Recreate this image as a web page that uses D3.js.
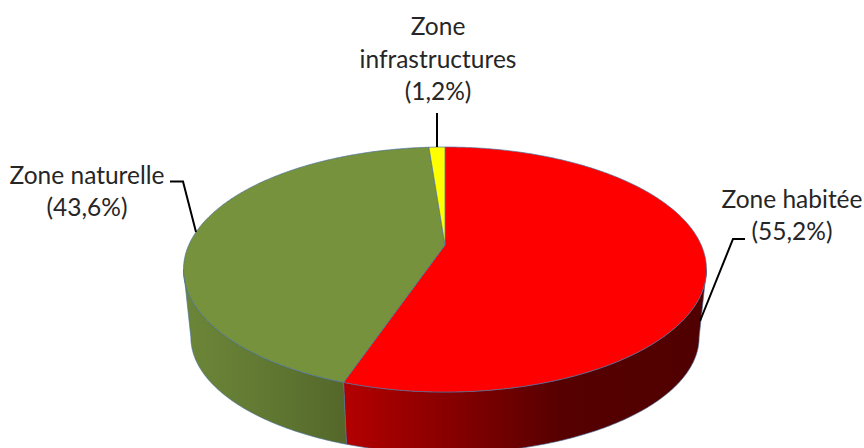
<!DOCTYPE html>
<html>
<head>
<meta charset="utf-8">
<script src="https://cdn.jsdelivr.net/npm/d3@7"></script>
<style>
html,body{margin:0;padding:0;background:#fff}
svg{display:block}
text{font-family:Lato,"Noto Sans",sans-serif;font-size:24.5px;fill:#262626;text-anchor:middle}
</style>
</head>
<body>
<svg id="c" width="864" height="448"></svg>
<script>
const categories = ["Zone habitée", "Zone naturelle", "Zone infrastructures"];
const values = [55.2, 43.6, 1.2];
const valueLabels = ["(55,2%)", "(43,6%)", "(1,2%)"];
const colors = ["#ff0000", "#76923c", "#ffff00"];

const svg = d3.select("#c");
const cx = 445, K = 0.2;
const topRim = {A: 256.2, B: 117.6, cy: 245};
const lowRim = {A: 249, B: 111.5, cy: 314};

// perspective projection of the pie disc onto the screen
function project(rim, a, r = 1) {
  const u = r * Math.sin(a), v = r * Math.cos(a), d = 1 + K * v;
  return [cx + rim.A * u / d, rim.cy - rim.B * v / d];
}
const arcs = d3.pie().sort(null).value(d => d)(values);
const samples = (a0, a1) => {
  const n = Math.max(2, Math.ceil(Math.abs(a1 - a0) / 0.01));
  return d3.range(n + 1).map(i => a0 + (a1 - a0) * i / n);
};
const line = d3.line();
const edge = "#4a6f9c";

const defs = svg.append("defs");
function grad(id, x1, x2, stops) {
  const g = defs.append("linearGradient").attr("id", id)
    .attr("gradientUnits", "userSpaceOnUse")
    .attr("x1", x1).attr("x2", x2).attr("y1", 0).attr("y2", 0);
  stops.forEach(s => g.append("stop").attr("offset", s[0]).attr("stop-color", s[1]));
}
grad("wall0", 346, 705, [[0, "#b30000"], [0.3, "#860000"], [0.6, "#560000"], [1, "#500000"]]);
grad("wall1", 184, 347, [[0, "#6c8638"], [0.45, "#627a33"], [1, "#54672a"]]);

// visible side wall: the front part of each slice, between the silhouette angles
const visMin = Math.PI - Math.acos(K), visMax = Math.PI + Math.acos(K);
arcs.forEach((d, i) => {
  const a0 = Math.max(d.startAngle, visMin), a1 = Math.min(d.endAngle, visMax);
  if (a1 <= a0) return;
  const s = samples(a0, a1);
  const pts = s.map(a => project(topRim, a)).concat(s.slice().reverse().map(a => project(lowRim, a)));
  svg.append("path").attr("d", line(pts) + "Z")
    .attr("fill", "url(#wall" + i + ")")
    .attr("stroke", edge).attr("stroke-width", 0.8).attr("stroke-opacity", 0.8);
});

// top face
arcs.forEach((d, i) => {
  const pts = [[cx, topRim.cy]].concat(samples(d.startAngle, d.endAngle).map(a => project(topRim, a)));
  svg.append("path").attr("d", line(pts) + "Z")
    .attr("fill", colors[i])
    .attr("stroke", edge).attr("stroke-width", 0.8).attr("stroke-opacity", 0.85);
});

// leader lines
const leaders = [
  [[745, 239], [733, 239], [700, 321]],
  [[170, 181.5], [183, 181.5], [196, 232]],
  [[437, 113], [437, 147]]
];
leaders.forEach(p => svg.append("path").attr("d", line(p))
  .attr("fill", "none").attr("stroke", "#000").attr("stroke-width", 2));

// labels
const nameLines = [["Zone habitée"], ["Zone naturelle"], ["Zone", "infrastructures"]];
const labelPos = [[792, 208, 32], [87, 184, 32], [438, 35, 32.5]];
arcs.forEach((d, i) => {
  const [x, y, dy] = labelPos[i];
  nameLines[i].concat([valueLabels[i]]).forEach((t, j) => {
    svg.append("text").attr("x", x).attr("y", y + j * dy).text(t);
  });
});
</script>
</body>
</html>
